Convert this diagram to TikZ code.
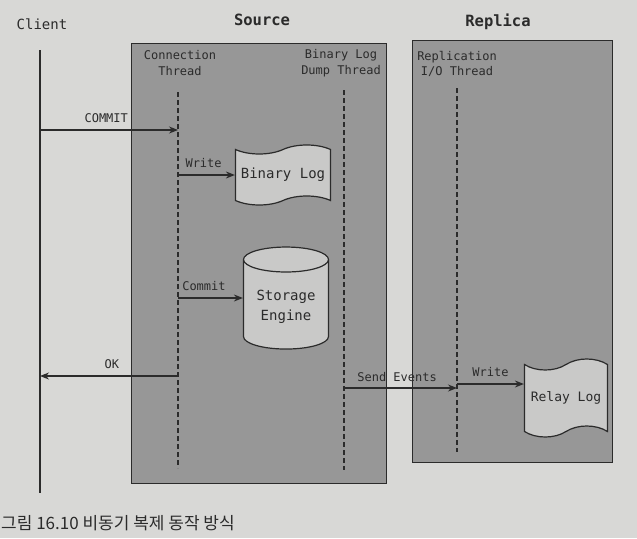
\documentclass[tikz,border=0pt]{standalone}
\usepackage{fontspec}
\setmonofont{DejaVu Sans Mono}
\newfontfamily\krfont{Noto Sans CJK KR}
\usetikzlibrary{shapes.geometric,shapes.symbols,arrows.meta}
\definecolor{pagebg}{HTML}{D8D8D6}
\definecolor{boxfill}{HTML}{979797}
\definecolor{shapefill}{HTML}{C9C9C8}
\definecolor{ink}{HTML}{2B2B2B}
\tikzset{
  frame/.style={draw=ink, line width=1.2pt, fill=boxfill, anchor=north west, inner sep=0pt},
  lifeline/.style={draw=ink, line width=1.3pt},
  thread/.style={draw=ink, line width=1.3pt, dash pattern=on 5pt off 3pt},
  msg/.style={draw=ink, line width=1.2pt, -{Stealth[length=9pt,width=7pt]}},
  lbl/.style={font=\ttfamily\fontsize{12}{15.5}\selectfont, text=ink, inner sep=0pt},
  ttl/.style={font=\ttfamily\bfseries\fontsize{15.5}{18}\selectfont, text=ink, inner sep=0pt},
  store/.style={draw=ink, line width=1.2pt, fill=shapefill, font=\ttfamily\fontsize{14}{20}\selectfont, text=ink, align=center},
}
\begin{document}
\begin{tikzpicture}[x=1pt,y=-1pt]
\fill[pagebg] (0,0) rectangle (637,538);
\useasboundingbox (0,0) rectangle (637,538);

% frames
\node[frame, minimum width=255pt, minimum height=440pt] (src) at (131,43) {};
\node[frame, minimum width=200pt, minimum height=422pt] (rep) at (412,40) {};

% titles
\node[lbl, font=\ttfamily\fontsize{14}{16}\selectfont] (client) at (42,24) {Client};
\node[ttl] (srct) at (262,20) {Source};
\node[ttl] (rept) at (498,22) {Replica};

\node[lbl, align=center] (ctl) at (180,63) {Connection\\Thread};
\node[lbl, align=center] (dtl) at (341,63) {Binary Log\\Dump Thread};
\node[lbl, align=center] (itl) at (457,64) {Replication\\I/O Thread};

% lifelines
\coordinate (cl0) at (40,50);  \coordinate (cl1) at (40,493);
\coordinate (ct0) at (178,92); \coordinate (ct1) at (178,468);
\coordinate (dt0) at (344,90); \coordinate (dt1) at (344,470);
\coordinate (it0) at (457,88); \coordinate (it1) at (457,452);
\draw[lifeline] (cl0) -- (cl1);
\draw[thread] (ct0) -- (ct1);
\draw[thread] (dt0) -- (dt1);
\draw[thread] (it0) -- (it1);

% stores
\node[store, tape, tape bend top=in and out, tape bend bottom=in and out, tape bend height=9pt,
      minimum width=95pt, minimum height=60pt] (blog) at (283,175) {Binary Log};
\node[store, cylinder, shape border rotate=90, aspect=0.38, minimum width=85pt, minimum height=102pt] (se) at (286,307) {Storage\\Engine};
\node[store, tape, tape bend top=in and out, tape bend bottom=in and out, tape bend height=11pt,
      minimum width=83pt, minimum height=78pt, font=\ttfamily\fontsize{13}{15}\selectfont] (rlog) at (566,398) {Relay Log};

% messages
\coordinate (m1a) at (40,130);  \coordinate (m1b) at (178,130);
\draw[msg] (m1a) -- (m1b) node[lbl, pos=0.48, above=7pt] (commit) {COMMIT};
\coordinate (m2a) at (178,175);
\draw[msg] (m2a) -- (blog.west) node[lbl, pos=0.45, above=7pt] (w1) {Write};
\coordinate (m3a) at (178,298);
\draw[msg] (m3a) -- (m3a -| se.west) node[lbl, pos=0.4, above=7pt] (c2) {Commit};
\coordinate (m4a) at (178,376); \coordinate (m4b) at (40,376);
\draw[msg] (m4a) -- (m4b) node[lbl, pos=0.48, above=7pt] (ok) {OK};
\coordinate (m5a) at (344,388); \coordinate (m5b) at (457,388);
\draw[msg] (m5a) -- (m5b) node[lbl, pos=0.47, above=6pt] (se5) {Send Events};
\coordinate (m6a) at (457,384);
\draw[msg] (m6a) -- (m6a -| rlog.west) node[lbl, pos=0.5, above=7pt] (w2) {Write};

% caption
\node[anchor=base west, inner sep=0pt, text=ink, font=\krfont\fontsize{17}{20}\selectfont] (cap) at (1,529) {그림 16.10 비동기 복제 동작 방식};
\end{tikzpicture}
\end{document}
